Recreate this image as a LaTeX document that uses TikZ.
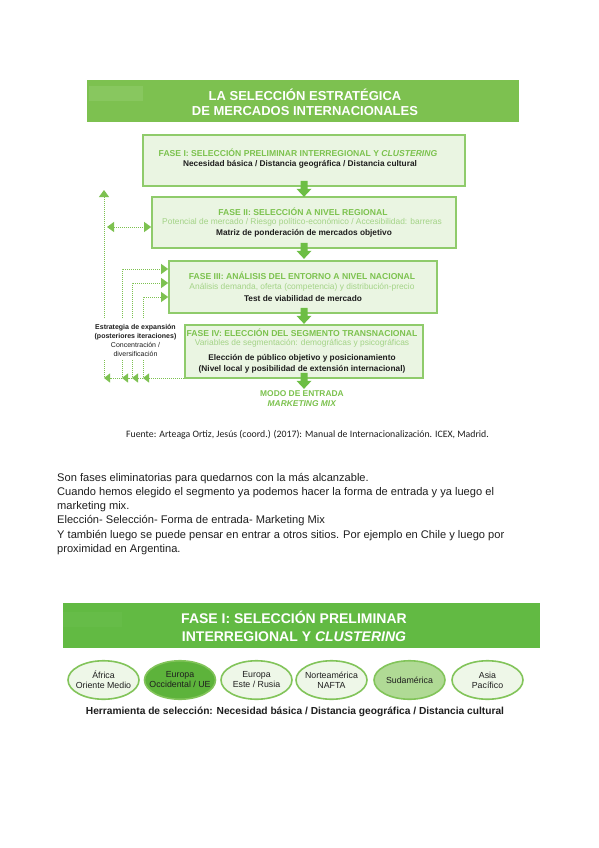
\documentclass[tikz,border=0pt]{standalone}
\usepackage{fontspec}
\setmainfont{Liberation Sans}
\newfontfamily\carlito{Carlito}
\usetikzlibrary{arrows.meta,shapes.geometric}
\definecolor{banA}{HTML}{7DC150}
\definecolor{banApatch}{HTML}{88C75F}
\definecolor{banB}{HTML}{62BA43}
\definecolor{banBpatch}{HTML}{66BC48}
\definecolor{boxfill}{HTML}{EAF5E2}
\definecolor{boxline}{HTML}{8FCB6B}
\definecolor{gtitle}{HTML}{7CC24E}
\definecolor{gsub}{HTML}{A3D386}
\definecolor{garrow}{HTML}{6DBE45}
\definecolor{dline}{HTML}{7DC150}
\definecolor{ellline}{HTML}{82C45A}
\definecolor{ellfill}{HTML}{EEF7E8}
\definecolor{elldark}{HTML}{5DB33B}
\definecolor{ellmid}{HTML}{B0DA95}
\definecolor{txt}{HTML}{1E1E1E}
\begin{document}
\begin{tikzpicture}[x=1pt,y=-1pt,
  fasebox/.style={draw=boxline,fill=boxfill,line width=1.7pt,inner sep=0pt},
  ftitle/.style={text=gtitle,font=\bfseries\fontsize{8.6}{10}\selectfont,inner sep=0pt},
  fsub/.style={text=gsub,font=\fontsize{8.4}{10}\selectfont,inner sep=0pt},
  fblack/.style={text=txt,font=\bfseries\fontsize{8.3}{10}\selectfont,inner sep=0pt},
  dotline/.style={draw=dline,line width=0.9pt,dash pattern=on 1pt off 1pt},
  tipA/.style={-{Triangle[length=7pt,width=10pt]}},
  tipB/.style={-{Triangle[length=6pt,width=9pt]}},
  ellbox/.style={ellipse,draw=ellline,line width=1.6pt,fill=ellfill,minimum width=71pt,minimum height=38.5pt,inner sep=0pt},
  elltxt/.style={inner sep=0pt,align=center,text=txt,font=\fontsize{8.8}{10}\selectfont},
  bodyline/.style={anchor=base west,inner sep=0pt,text=txt,font=\fontsize{11.1}{14}\selectfont},
  blockarrow/.pic={\fill[garrow] (-3.5,-6) -- (3.5,-6) -- (3.5,2) -- (7.5,2) -- (0,10) -- (-7.5,2) -- (-3.5,2) -- cycle;}
]
\useasboundingbox (0,0) rectangle (599,848);
\fill[white] (0,0) rectangle (599,848);

% ---------- banner 1
\fill[banA] (87,80) rectangle (519,122);
\fill[banApatch] (89,86) rectangle (143,101);
\node[text=white,font=\bfseries\fontsize{13}{15}\selectfont,align=center,inner sep=0pt] (title) at (305,102) {LA SELECCIÓN ESTRATÉGICA\\DE MERCADOS INTERNACIONALES};

% ---------- phase boxes
\node[fasebox,minimum width=322pt,minimum height=51pt] (f1) at (304,160.5) {};
\node[fasebox,minimum width=304pt,minimum height=51pt] (f2) at (304,222.5) {};
\node[fasebox,minimum width=268pt,minimum height=52pt] (f3) at (303,287) {};
\node[fasebox,minimum width=238pt,minimum height=53pt] (f4) at (304,351.5) {};

\node[ftitle] (f1t) at (298,152.5) {FASE I: SELECCIÓN PRELIMINAR INTERREGIONAL Y \textit{CLUSTERING}};
\node[fblack] (f1b) at (300,164) {Necesidad básica / Distancia geográfica / Distancia cultural};

\node[ftitle] (f2t) at (303,211.5) {FASE II: SELECCIÓN A NIVEL REGIONAL};
\node[fsub] (f2s) at (302,222.5) {Potencial de mercado / Riesgo político-económico / Accesibilidad: barreras};
\node[fblack] (f2b) at (304,233.5) {Matriz de ponderación de mercados objetivo};

\node[ftitle] (f3t) at (302,276) {FASE III: ANÁLISIS DEL ENTORNO A NIVEL NACIONAL};
\node[fsub] (f3s) at (302,287) {Análisis demanda, oferta (competencia) y distribución-precio};
\node[fblack] (f3b) at (303,298.5) {Test de viabilidad de mercado};

\node[ftitle] (f4t) at (302,333) {FASE IV: ELECCIÓN DEL SEGMENTO TRANSNACIONAL};
\node[fsub] (f4s) at (302,343.5) {Variables de segmentación: demográficas y psicográficas};
\node[fblack] (f4b) at (302,358) {Elección de público objetivo y posicionamiento};
\node[fblack] (f4c) at (302,369.5) {(Nivel local y posibilidad de extensión internacional)};

\pic at (f1.south) {blockarrow};
\pic at (f2.south) {blockarrow};
\pic at ([xshift=1pt]f3.south) {blockarrow};
\pic at (f4.south) {blockarrow};

\node[ftitle,align=center,font=\bfseries\fontsize{8.4}{9.5}\selectfont] (modo) at (302,398.5) {MODO DE ENTRADA\\\textit{MARKETING MIX}};

% ---------- left feedback connectors
\coordinate (top0) at (104,190);
\coordinate (u0) at (104,318);
\coordinate (l0) at (104,360);
\coordinate (b0) at (104,378);
\coordinate (u1) at (122,318);
\coordinate (l1) at (122,360);
\coordinate (b1) at (122,378);
\coordinate (u2) at (132,318);
\coordinate (l2) at (132,360);
\coordinate (b2) at (132,378);
\coordinate (u3) at (143,318);
\coordinate (l3) at (143,360);
\coordinate (b3) at (143,378);
\coordinate (k1) at (122,269);
\coordinate (k2) at (132,283);
\coordinate (k3) at (143,297);
\coordinate (d0) at (107,227);

\draw[dotline,tipA] (u0) -- (top0);
\draw[dotline,{Triangle[length=7pt,width=10pt]}-{Triangle[length=7pt,width=10pt]}] (d0) -- (d0 -| f2.west);
\draw[dotline,tipA] (u1) -- (k1) -- (k1 -| f3.west);
\draw[dotline,tipA] (u2) -- (k2) -- (k2 -| f3.west);
\draw[dotline,tipA] (u3) -- (k3) -- (k3 -| f3.west);

\draw[dotline] (l0) -- (b0);
\draw[dotline] (l1) -- (b1);
\draw[dotline] (l2) -- (b2);
\draw[dotline] (l3) -- (b3);
\draw[dotline,tipB] (b0 -| f4.west) -- (b3);
\draw[dotline,tipB] (b3) -- (b2);
\draw[dotline,tipB] (b2) -- (b1);
\draw[dotline,tipB] (b1) -- (b0);

\node[align=center,inner sep=0pt,text=txt,font=\fontsize{7}{9}\selectfont] (estr) at (135.5,340.5) {\textbf{Estrategia de expansión}\\\textbf{(posteriores iteraciones)}\\Concentración /\\diversificación};

% ---------- source
\node[inner sep=0pt,text=txt,font=\carlito\fontsize{9.8}{11}\selectfont] (src) at (307.5,435) {Fuente: Arteaga Ortiz, Jesús (coord.) (2017): Manual de Internacionalización. ICEX, Madrid.};

% ---------- body text
\node[bodyline] (t1) at (57,481) {Son fases eliminatorias para quedarnos con la más alcanzable.};
\node[bodyline] (t2) at (57,495.5) {Cuando hemos elegido el segmento ya podemos hacer la forma de entrada y ya luego el};
\node[bodyline] (t3) at (57,509.5) {marketing mix.};
\node[bodyline] (t4) at (57,523.5) {Elección- Selección- Forma de entrada- Marketing Mix};
\node[bodyline] (t5) at (57,538) {Y también luego se puede pensar en entrar a otros sitios. Por ejemplo en Chile y luego por};
\node[bodyline] (t6) at (57,552) {proximidad en Argentina.};

% ---------- banner 2
\fill[banB] (63,603) rectangle (540,648);
\fill[banBpatch] (63,612) rectangle (122,627);
\node[text=white,font=\bfseries\fontsize{14}{18}\selectfont,align=center,inner sep=0pt] (title2) at (294,626.5) {FASE I: SELECCIÓN PRELIMINAR\\INTERREGIONAL Y \textit{CLUSTERING}};

\node[ellbox] (e1) at (103.5,680) {};
\node[ellbox,fill=elldark] (e2) at (180,680) {};
\node[ellbox] (e3) at (256.5,680) {};
\node[ellbox] (e4) at (331.5,680) {};
\node[ellbox,fill=ellmid] (e5) at (409.5,680) {};
\node[ellbox] (e6) at (487.5,680) {};
\node[elltxt] (e1t) at (e1) {África\\Oriente Medio};
\node[elltxt] (e2t) at (e2) {Europa\\Occidental / UE};
\node[elltxt] (e3t) at (e3) {Europa\\Este / Rusia};
\node[elltxt] (e4t) at (e4) {Norteamérica\\NAFTA};
\node[elltxt] (e5t) at (e5) {Sudamérica};
\node[elltxt] (e6t) at (e6) {Asia\\Pacífico};

\node[inner sep=0pt,text=txt,font=\bfseries\fontsize{10.2}{12}\selectfont] (herr) at (295,712) {Herramienta de selección: Necesidad básica / Distancia geográfica / Distancia cultural};
\end{tikzpicture}
\end{document}
